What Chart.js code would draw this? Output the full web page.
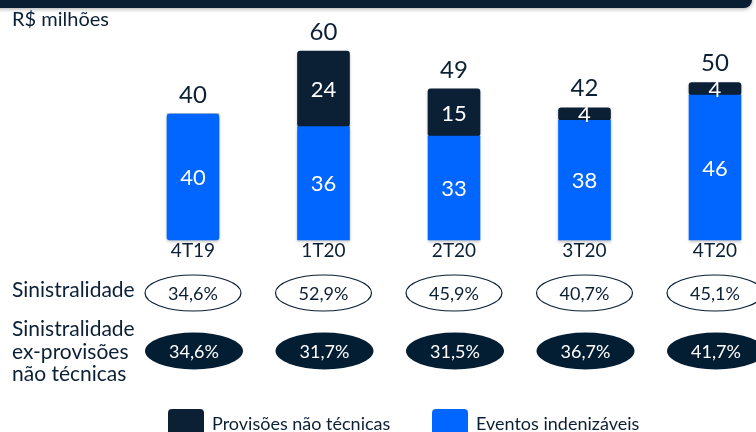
<!DOCTYPE html>
<html><head><meta charset="utf-8">
<script src="https://cdn.jsdelivr.net/npm/chart.js@4/dist/chart.umd.min.js"></script>
<style>html,body{margin:0;padding:0;background:#fff}#w{width:756px;height:432px}</style>
</head><body><div id="w"><canvas id="c" width="756" height="432"></canvas></div>
<script>
const categories = ['4T19','1T20','2T20','3T20','4T20'];
const eventos = [40,36,33,38,46];
const provisoes = [0,24,15,4,4];
const totals = [40,60,49,42,50];
const sinistralidade = ['34,6%','52,9%','45,9%','40,7%','45,1%'];
const sinistralidadeEx = ['34,6%','31,7%','31,5%','36,7%','41,7%'];
const seriesNames = ['Eventos indenizáveis','Provisões não técnicas'];

const DARK = '#0B1F35', BLUE = '#0066FF', FONT = 'Lato';

const overlay = {
  id:'overlay',
  beforeDatasetsDraw(chart){
    const ctx = chart.ctx;
    ctx.save();
    ctx.shadowColor='rgba(0,0,0,0.25)'; ctx.shadowBlur=3; ctx.shadowOffsetY=1.5;
  },
  afterDatasetsDraw(chart){
    const ctx = chart.ctx, x = chart.scales.x, y = chart.scales.y;
    ctx.restore();
    ctx.save();
    // header bar
    ctx.fillStyle = '#091D33';
    ctx.shadowColor='rgba(0,0,0,0.35)'; ctx.shadowBlur=4; ctx.shadowOffsetY=1;
    ctx.beginPath(); ctx.roundRect(-10,-10,762,18,8); ctx.fill();
    ctx.shadowColor='transparent';
    ctx.textBaseline='middle';
    ctx.fillStyle = DARK; ctx.textAlign='left';
    ctx.font = `20px ${FONT}`;
    ctx.fillText('R$ milhões', 12, 20);
    // segment labels
    const mB = chart.getDatasetMeta(0), mP = chart.getDatasetMeta(1);
    ctx.textAlign='center';
    for (let i=0;i<categories.length;i++){
      const b = mB.data[i], p = mP.data[i];
      ctx.fillStyle='#fff'; ctx.font=`22px ${FONT}`;
      ctx.fillText(String(eventos[i]), b.x, (b.y+b.base)/2+1);
      if (provisoes[i]>0) ctx.fillText(String(provisoes[i]), p.x, (p.y+p.base)/2+1);
      const top = provisoes[i]>0 ? p.y : b.y;
      ctx.fillStyle=DARK; ctx.font=`24px ${FONT}`;
      ctx.fillText(String(totals[i]), b.x, top-19);
      const cx = x.getPixelForValue(i);
      // category label under bar
      ctx.font=`19px ${FONT}`;
      ctx.fillText(categories[i], cx, y.getPixelForValue(0)+11);
      // outline ellipse
      ctx.beginPath(); ctx.ellipse(cx,293,48,18,0,0,Math.PI*2);
      ctx.fillStyle='#fff'; ctx.fill(); ctx.lineWidth=1.2; ctx.strokeStyle=DARK; ctx.stroke();
      ctx.fillStyle=DARK; ctx.font=`18px ${FONT}`;
      ctx.fillText(sinistralidade[i], cx, 294);
      ctx.beginPath(); ctx.ellipse(cx+1,351,49,18.5,0,0,Math.PI*2);
      ctx.fillStyle='#031D33'; ctx.fill();
      ctx.fillStyle='#fff';
      ctx.fillText(sinistralidadeEx[i], cx+1, 352);
    }
    ctx.textAlign='left'; ctx.fillStyle=DARK; ctx.font=`21px ${FONT}`;
    ctx.fillText('Sinistralidade', 12, 290);
    ctx.fillText('Sinistralidade', 12, 329);
    ctx.fillText('ex-provisões', 12, 352);
    ctx.fillText('não técnicas', 12, 374);
    // legend
    const lg = [[168,DARK,seriesNames[1]],[432,BLUE,seriesNames[0]]];
    ctx.font=`18px ${FONT}`;
    for (const [lx,col,t] of lg){
      ctx.fillStyle=col; ctx.beginPath(); ctx.roundRect(lx,409,36,30,4); ctx.fill();
      ctx.fillStyle=DARK; ctx.fillText(t, lx+44, 424);
    }
    ctx.restore();
  }
};

new Chart(document.getElementById('c'), {
  type:'bar',
  data:{labels:categories, datasets:[
    {label:seriesNames[0], data:eventos, backgroundColor:BLUE, stack:'s'},
    {label:seriesNames[1], data:provisoes, backgroundColor:DARK, stack:'s'}
  ].map(d=>Object.assign(d,{barThickness:52, borderRadius:3, borderSkipped:false, clip:false}))},
  options:{
    responsive:false, animation:false, devicePixelRatio:1,
    layout:{padding:{left:193,right:41,top:40,bottom:192}},
    plugins:{legend:{display:false}, tooltip:{enabled:false}},
    scales:{
      x:{stacked:true, offset:false, display:false},
      y:{stacked:true, display:false, min:0, max:63.5}
    }
  },
  plugins:[overlay]
});
</script></body></html>
